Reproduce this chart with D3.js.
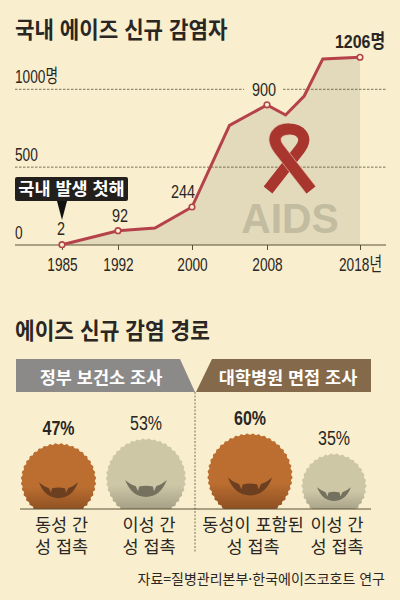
<!DOCTYPE html>
<html lang="ko">
<head>
<meta charset="utf-8">
<title>국내 에이즈 신규 감염자</title>
<script src="https://cdn.jsdelivr.net/npm/d3@7"></script>
<style>
  html, body { margin: 0; padding: 0; background: #f9efcf; }
  svg { display: block; }
  text { font-family: "Noto Sans CJK KR", sans-serif; fill: #2a2623; }
  .num { font-family: "Liberation Sans", "Noto Sans CJK KR", sans-serif; }
</style>
</head>
<body>
<div id="vis"></div>
<script>
// 신규 감염자 (읽은 값)
var years = [1985, 1992, 1996, 2000, 2004, 2008, 2010, 2012, 2014, 2018];
var cases = [2, 92, 109, 244, 768, 900, 835, 957, 1195, 1206];
var labeledYears = [1985, 1992, 2000, 2008, 2018];
var caseLabels = ["2", "92", "244", "900", "1206명"];
var tickYears = ["1985", "1992", "2000", "2008", "2018년"];
var gridValues = [0, 500, 1000];
var gridLabels = ["0", "500", "1000명"];

// 감염 경로
var routeNames = [["동성 간", "성 접촉"], ["이성 간", "성 접촉"], ["동성이 포함된", "성 접촉"], ["이성 간", "성 접촉"]];
var routeShares = [47, 53, 60, 35];
var routeKinds = ["gay", "straight", "gay", "straight"];
var surveys = ["정부 보건소 조사", "대학병원 면접 조사"];

var ink = "#2a2623", lineRed = "#b5424a", paper = "#f9efcf";

// 원본 글자가 좁아서 가로로 줄인다
function squeeze(sel, k) {
  sel.each(function() {
    this.setAttribute("textLength", this.getComputedTextLength() * k);
    this.setAttribute("lengthAdjust", "spacingAndGlyphs");
  });
}

var svg = d3.select("#vis").append("svg").attr("width", 400).attr("height", 600);
var defs = svg.append("defs");

var x = d3.scaleLinear().domain(labeledYears).range([62, 118, 192, 267, 360]);
var y = d3.scaleLinear().domain([0, 1000]).range([245, 89.3]);
var rows = years.map(function(d, i) { return { year: d, value: cases[i] }; });

svg.append("text").attr("x", 15).attr("y", 38).attr("font-size", 22.5).attr("font-weight", 700)
  .text("국내 에이즈 신규 감염자").call(squeeze, 0.94);

// 면적
svg.append("path").datum(rows).attr("fill", "#e2dabb")
  .attr("d", d3.area().x(function(d) { return x(d.year); }).y0(y(0)).y1(function(d) { return y(d.value); }));

// 격자
svg.selectAll("line.grid").data(gridValues.slice(1)).enter().append("line")
  .attr("x1", 15).attr("x2", 386)
  .attr("y1", function(d) { return y(d); }).attr("y2", function(d) { return y(d); })
  .attr("stroke", "#5a5236").attr("stroke-width", 0.8).attr("stroke-dasharray", "2.5,1.5");

svg.selectAll("text.grid").data(gridValues).enter().append("text")
  .attr("class", "num").attr("x", 15).attr("font-size", 19)
  .attr("y", function(d) { return y(d) - 6; })
  .text(function(d, i) { return gridLabels[i]; })
  .call(squeeze, 0.72);

// 리본
var ribbon = svg.append("g").attr("fill", "none");
var strandA = "M311,190 L279,149 C270,137 278,129 289,129";
var strandB = "M268,190 L300,149 C309,137 300,129 289,129";
ribbon.append("path").attr("d", strandB).attr("stroke", "#a8352e").attr("stroke-width", 11);
ribbon.append("path").attr("d", strandA).attr("stroke", "#dca98f").attr("stroke-width", 12.5);
ribbon.append("path").attr("d", strandA).attr("stroke", "#a8352e").attr("stroke-width", 11);
ribbon.append("path").attr("d", "M275,136 Q289,120 303,136 Q289,128 275,136 Z").attr("fill", "#a8352e");

svg.append("text").attr("x", 290).attr("y", 233).attr("text-anchor", "middle")
  .attr("font-weight", 700).attr("font-size", 43)
  .style("font-family", "'Liberation Sans', sans-serif").style("fill", "#c3bca0").text("AIDS")
  .call(squeeze, 0.95);

// 축
var axis = svg.append("g").attr("transform", "translate(0," + y(0) + ")")
  .call(d3.axisBottom(x).tickValues(labeledYears).tickSize(5).tickPadding(8)
    .tickFormat(function(d, i) { return tickYears[i]; }));
axis.select(".domain").remove();
axis.selectAll("line").attr("stroke", "#5a5236");
axis.selectAll("text").attr("class", "num").attr("font-size", 19).style("fill", ink).call(squeeze, 0.72);
axis.append("line").attr("x1", 15).attr("x2", 386).attr("stroke", "#5a5236").attr("stroke-width", 1);

// 선
svg.append("path").datum(rows).attr("fill", "none").attr("stroke", lineRed).attr("stroke-width", 3)
  .attr("d", d3.line().x(function(d) { return x(d.year); }).y(function(d) { return y(d.value); }));

var labeled = rows.filter(function(d) { return labeledYears.indexOf(d.year) >= 0; });

svg.selectAll("circle.pt").data(labeled).enter().append("circle")
  .attr("cx", function(d) { return x(d.year); }).attr("cy", function(d) { return y(d.value); })
  .attr("r", 2.8).attr("fill", paper).attr("stroke", lineRed).attr("stroke-width", 1.6);

// 900 라벨 뒤 배경
svg.append("rect").attr("x", 244).attr("y", 84).attr("width", 39).attr("height", 10).attr("fill", paper);

var labelShift = { 1985: -1, 1992: 2, 2000: -9, 2008: -3, 2018: 0 };
svg.selectAll("text.val").data(labeled).enter().append("text")
  .attr("class", "num").attr("text-anchor", "middle").attr("font-size", 19)
  .attr("x", function(d) { return x(d.year) + labelShift[d.year]; })
  .attr("y", function(d) { return y(d.value) - (d.year === 1985 ? 10 : 9); })
  .style("font-weight", function(d) { return d.year === 2018 ? 700 : 400; })
  .text(function(d, i) { return caseLabels[i]; })
  .each(function(d) { d3.select(this).call(squeeze, d.year === 2018 ? 0.84 : 0.76); });

// 첫해 표시
svg.append("rect").attr("x", 15).attr("y", 177).attr("width", 113).attr("height", 24).attr("rx", 2).attr("fill", "#231f1c");
svg.append("text").attr("x", 71.5).attr("y", 195).attr("text-anchor", "middle").attr("font-size", 17.5).attr("font-weight", 700)
  .style("fill", "#fff").text("국내 발생 첫해");
svg.append("path").attr("d", "M57,201 L67,201 L62,220 Z").attr("fill", "#111");

// 두번째 제목
svg.append("text").attr("x", 15).attr("y", 339).attr("font-size", 22.5).attr("font-weight", 700).text("에이즈 신규 감염 경로")
  .call(squeeze, 0.95);

// 조사 배너
var bannerColor = d3.scaleOrdinal().domain(surveys).range(["#8b8a88", "#84694a"]);
var bannerPath = d3.scaleOrdinal().domain(surveys).range([
  "M16,359 L180,359 L195,392 L16,392 Z",
  "M212,359 L371,359 L371,392 L196,392 Z"
]);
var bannerX = d3.scaleOrdinal().domain(surveys).range([101, 288]);
svg.selectAll("path.banner").data(surveys).enter().append("path")
  .attr("d", function(d) { return bannerPath(d); })
  .attr("fill", function(d) { return bannerColor(d); });
svg.selectAll("text.banner").data(surveys).enter().append("text")
  .attr("x", function(d) { return bannerX(d); }).attr("y", 384).attr("text-anchor", "middle")
  .attr("font-size", 17.5).attr("font-weight", 700).style("fill", "#fff")
  .text(function(d) { return d; });

svg.append("line").attr("x1", 195).attr("x2", 195).attr("y1", 392).attr("y2", 552)
  .attr("stroke", "#5a5236").attr("stroke-width", 0.8).attr("stroke-dasharray", "2,1.5");

// 원
var ground = 509;
var r = d3.scaleSqrt().domain([0, 60]).range([0, 42.6]);
var cx = d3.scaleOrdinal().domain(d3.range(4)).range([58.5, 146, 250, 334]);
var cyOf = function(v) { return 518.5 - r(v); };

function addGradient(id, top, bottom) {
  var g = defs.append("linearGradient").attr("id", id).attr("x1", 0).attr("x2", 0).attr("y1", 0).attr("y2", 1);
  g.append("stop").attr("offset", 0).attr("stop-color", top);
  g.append("stop").attr("offset", 0.58).attr("stop-color", top);
  g.append("stop").attr("offset", 0.9).attr("stop-color", bottom);
}
addGradient("gay", "#bb6e30", "#8d4f22");
addGradient("straight", "#cec7a6", "#a39d85");
var mouthColor = { gay: "#6b3f20", straight: "#75715f" };

defs.append("clipPath").attr("id", "ground").append("rect")
  .attr("x", 0).attr("y", 0).attr("width", 400).attr("height", ground);

function scallop(radius) {
  var n = Math.round(radius * 1.05);
  var line = d3.lineRadial().curve(d3.curveCardinalClosed)
    .angle(function(d) { return d / (2 * n) * 2 * Math.PI; })
    .radius(function(d) { return d % 2 ? radius : radius - 1.4; });
  return line(d3.range(2 * n));
}

// 입 모양 (반지름 1 기준)
var mouth = "M-.52,.04 Q-.38,.16 -.26,.19 L-.2,.32 L-.17,.2 Q0,.16 .17,.2 L.2,.32 L.26,.19 Q.38,.16 .52,.04 Q.36,.46 0,.46 Q-.36,.46 -.52,.04 Z";

var bubbles = svg.selectAll("g.bubble").data(routeShares).enter().append("g").attr("clip-path", "url(#ground)");
bubbles.append("path")
  .attr("transform", function(d, i) { return "translate(" + cx(i) + "," + cyOf(d) + ")"; })
  .attr("d", function(d) { return scallop(r(d)); })
  .attr("fill", function(d, i) { return "url(#" + routeKinds[i] + ")"; });
bubbles.append("path")
  .attr("transform", function(d, i) { return "translate(" + cx(i) + "," + cyOf(d) + ") scale(" + r(d) + ")"; })
  .attr("d", mouth)
  .attr("fill", function(d, i) { return mouthColor[routeKinds[i]]; });

svg.append("line").attr("x1", 20).attr("x2", 371).attr("y1", ground).attr("y2", ground)
  .attr("stroke", "#5a5236").attr("stroke-width", 1);

svg.selectAll("text.share").data(routeShares).enter().append("text")
  .attr("class", "num").attr("text-anchor", "middle").attr("font-size", 20)
  .attr("x", function(d, i) { return cx(i); })
  .attr("y", function(d) { return cyOf(d) - r(d) - 8; })
  .style("font-weight", function(d, i) { return routeKinds[i] === "gay" ? 700 : 400; })
  .text(function(d) { return d + "%"; })
  .call(squeeze, 0.8);

routeNames.forEach(function(lines, i) {
  lines.forEach(function(t, j) {
    svg.append("text").attr("x", cx(i) + 3).attr("y", 531 + j * 21.5).attr("text-anchor", "middle")
      .attr("font-size", 17.5).text(t);
  });
});

svg.append("text").attr("x", 385).attr("y", 584).attr("text-anchor", "end").attr("font-size", 14)
  .text("자료=질병관리본부·한국에이즈코호트 연구");
</script>
</body>
</html>
